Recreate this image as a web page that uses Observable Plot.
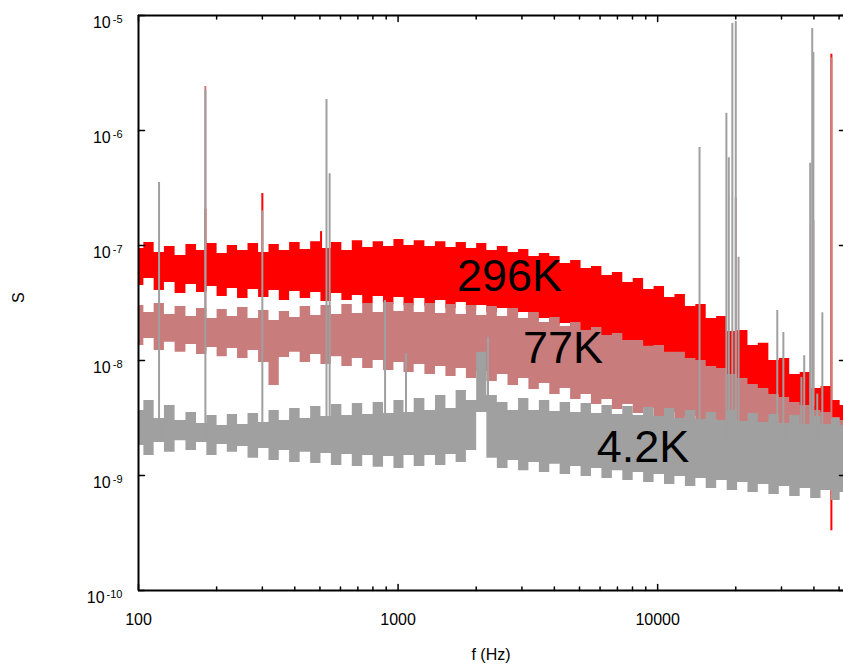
<!DOCTYPE html>
<html><head><meta charset="utf-8">
<script src="https://cdn.jsdelivr.net/npm/d3@7"></script>
<script src="https://cdn.jsdelivr.net/npm/@observablehq/plot@0.6"></script>
<style>body{margin:0;background:#fff;}</style>
</head><body><div id="chart"></div>
<script>
// sample frequencies (Hz)
const freq = [100,110,120,132,145,160,175,192,210,230,252,277,304,333,365,400,440,482,528,580,636,698,765,840,920,1010,1100,1210,1330,1460,1600,1750,1920,2100,2300,2530,2780,3050,3340,3670,4020,4410,4840,5310,5820,6390,7010,7690,8430,9250,10150,11130,12210,13400,14700,16100,17700,19400,21300,23300,25600,28100,30800,33800,37100,40700,44600,49000,52000];

// 296K noise band: upper and lower envelopes
const red296Hi = [9.42e-8,1.06e-7,8.70e-8,9.80e-8,8.18e-8,1.02e-7,9.05e-8,1.04e-7,8.52e-8,1.00e-7,9.05e-8,1.04e-7,8.70e-8,1.02e-7,9.05e-8,1.06e-7,9.23e-8,1.08e-7,9.42e-8,1.06e-7,9.05e-8,1.10e-7,9.61e-8,1.08e-7,9.80e-8,1.13e-7,1.00e-7,1.10e-7,9.80e-8,1.08e-7,9.61e-8,1.06e-7,9.42e-8,1.04e-7,9.05e-8,9.80e-8,8.70e-8,9.23e-8,8.02e-8,8.52e-8,8.02e-8,6.98e-8,7.41e-8,6.31e-8,6.57e-8,5.48e-8,5.83e-8,4.77e-8,5.16e-8,4.14e-8,4.40e-8,3.53e-8,3.75e-8,2.95e-8,3.07e-8,2.32e-8,2.41e-8,1.79e-8,1.82e-8,1.35e-8,1.41e-8,1.00e-8,1.04e-8,7.56e-9,7.86e-9,5.71e-9,5.94e-9,4.49e-9,4.06e-9];
const red296Lo = [4.49e-8,5.16e-8,4.06e-8,4.77e-8,3.82e-8,4.58e-8,3.90e-8,4.40e-8,3.60e-8,4.23e-8,3.46e-8,4.14e-8,3.53e-8,4.06e-8,3.32e-8,3.98e-8,3.46e-8,3.90e-8,3.26e-8,3.82e-8,3.32e-8,3.67e-8,3.13e-8,3.60e-8,3.07e-8,3.53e-8,3.01e-8,3.46e-8,2.95e-8,3.32e-8,2.83e-8,3.19e-8,2.72e-8,3.01e-8,2.62e-8,2.83e-8,2.41e-8,2.62e-8,2.23e-8,2.32e-8,2.01e-8,2.10e-8,1.82e-8,1.82e-8,1.62e-8,1.59e-8,1.44e-8,1.38e-8,1.27e-8,1.22e-8,1.10e-8,1.04e-8,9.42e-9,8.87e-9,7.86e-9,7.41e-9,6.57e-9,6.06e-9,5.48e-9,5.06e-9,4.49e-9,4.23e-9,3.82e-9,3.53e-9,3.13e-9,2.95e-9,2.72e-9,2.56e-9,2.46e-9];

// 77K noise band
const pink77Hi = [3.01e-8,2.62e-8,3.13e-8,2.51e-8,2.95e-8,2.41e-8,2.83e-8,2.32e-8,2.78e-8,2.41e-8,2.89e-8,2.32e-8,2.72e-8,2.23e-8,2.67e-8,2.37e-8,2.95e-8,2.46e-8,3.01e-8,2.51e-8,3.07e-8,2.56e-8,3.13e-8,2.62e-8,3.19e-8,2.67e-8,3.13e-8,2.62e-8,3.13e-8,2.56e-8,3.07e-8,2.51e-8,3.01e-8,2.46e-8,2.95e-8,2.41e-8,2.83e-8,2.32e-8,2.62e-8,2.14e-8,2.37e-8,1.98e-8,2.14e-8,1.82e-8,1.94e-8,1.65e-8,1.72e-8,1.49e-8,1.49e-8,1.33e-8,1.35e-8,1.18e-8,1.18e-8,1.04e-8,1.00e-8,8.87e-9,8.52e-9,7.56e-9,6.98e-9,6.19e-9,5.71e-9,5.06e-9,4.77e-9,4.31e-9,4.06e-9,3.67e-9,3.53e-9,3.19e-9,3.01e-9];
const pink77Lo = [1.35e-8,1.55e-8,1.22e-8,1.44e-8,1.18e-8,1.38e-8,1.13e-8,1.30e-8,1.08e-8,1.27e-8,1.04e-8,1.22e-8,9.61e-9,6.06e-9,1.06e-8,1.18e-8,9.61e-9,1.13e-8,9.23e-9,1.08e-8,8.87e-9,1.04e-8,8.52e-9,1.00e-8,8.18e-9,9.61e-9,7.86e-9,9.23e-9,7.56e-9,8.87e-9,7.26e-9,8.52e-9,6.98e-9,8.02e-9,6.57e-9,7.56e-9,6.06e-9,6.98e-9,5.60e-9,6.31e-9,5.06e-9,5.71e-9,4.58e-9,5.06e-9,4.14e-9,4.58e-9,3.75e-9,4.14e-9,3.46e-9,3.82e-9,3.26e-9,3.53e-9,3.01e-9,3.26e-9,2.83e-9,3.07e-9,2.72e-9,2.95e-9,2.62e-9,2.83e-9,2.51e-9,2.72e-9,2.46e-9,2.67e-9,2.37e-9,2.56e-9,2.32e-9,2.46e-9,2.27e-9];

// 4.2K noise band
const gray42Hi = [3.67e-9,4.49e-9,3.13e-9,4.06e-9,3.01e-9,3.53e-9,2.83e-9,3.32e-9,2.72e-9,3.39e-9,2.78e-9,3.46e-9,2.89e-9,3.67e-9,3.01e-9,3.82e-9,3.13e-9,3.98e-9,3.26e-9,4.14e-9,3.32e-9,4.23e-9,3.39e-9,4.31e-9,3.46e-9,4.49e-9,3.53e-9,4.67e-9,3.67e-9,4.96e-9,3.82e-9,5.48e-9,4.49e-9,1.18e-8,4.96e-9,4.31e-9,3.67e-9,4.67e-9,3.67e-9,4.49e-9,3.60e-9,4.31e-9,3.53e-9,4.23e-9,3.46e-9,4.06e-9,3.39e-9,3.98e-9,3.32e-9,3.90e-9,3.26e-9,3.82e-9,3.13e-9,3.67e-9,3.07e-9,3.53e-9,3.01e-9,3.67e-9,2.95e-9,3.46e-9,2.89e-9,3.39e-9,2.83e-9,3.32e-9,2.78e-9,3.26e-9,2.78e-9,3.13e-9,2.72e-9];
const gray42Lo = [1.82e-9,1.49e-9,1.94e-9,1.59e-9,2.01e-9,1.65e-9,1.94e-9,1.49e-9,1.86e-9,1.59e-9,1.79e-9,1.41e-9,1.72e-9,1.35e-9,1.65e-9,1.30e-9,1.59e-9,1.27e-9,1.55e-9,1.22e-9,1.52e-9,1.20e-9,1.49e-9,1.18e-9,1.46e-9,1.15e-9,1.49e-9,1.20e-9,1.49e-9,1.22e-9,1.52e-9,1.30e-9,1.65e-9,3.53e-9,1.41e-9,1.15e-9,1.35e-9,1.10e-9,1.30e-9,1.06e-9,1.25e-9,1.02e-9,1.20e-9,9.80e-10,1.15e-9,9.42e-10,1.10e-9,9.05e-10,1.06e-9,8.70e-10,1.02e-9,8.35e-10,9.80e-10,8.02e-10,9.42e-10,7.71e-10,9.05e-10,7.41e-10,8.70e-10,7.12e-10,8.35e-10,6.84e-10,8.02e-10,6.57e-10,7.71e-10,6.31e-10,7.41e-10,6.06e-10,7.12e-10];

// narrow spectral lines (frequency, foot, peak)
const redLineF  = [181, 300, 505, 46700];
const redLineLo = [4e-8, 4e-8, 4e-8, 3.3e-10];
const redLineHi = [2.06e-7, 2.83e-7, 1.32e-7, 4.6e-6];
const pinkLineF  = [181, 20000, 39800, 46700];
const pinkLineLo = [1.2e-8, 4e-9, 4e-9, 3e-9];
const pinkLineHi = [2.41e-6, 2.61e-7, 1.65e-7, 4.3e-6];
const grayLineF  = [120, 181, 300, 530, 545, 891, 1073, 2220, 14500, 18400, 18800, 19400, 20000, 20500, 28900, 30500, 35800, 36700, 38700, 39400, 39800, 41200, 43100];
const grayLineLo = [2e-9, 2e-9, 2.5e-9, 2e-9, 2e-9, 2.5e-9, 2.5e-9, 3e-9, 2e-9, 2e-9, 2e-9, 2e-9, 2e-9, 2e-9, 2e-9, 2e-9, 2e-9, 2e-9, 2e-9, 2e-9, 2e-9, 2e-9, 2e-9];
const grayLineHi = [3.53e-7, 2.2e-6, 2.0e-7, 1.86e-6, 4.2e-7, 3.32e-8, 1.15e-8, 1.59e-8, 7.1e-7, 1.41e-6, 5.8e-7, 8.5e-6, 8.86e-6, 7.9e-8, 2.72e-8, 1.75e-8, 7.1e-9, 1.1e-8, 5.2e-7, 7.7e-6, 4.77e-6, 5.1e-9, 2.6e-8];

// series labels
const labelText = ["296K", "77K", "4.2K"];
const labelF = [1686, 3026, 5828];
const labelS = [4.06e-8, 9.6e-9, 1.30e-9];

// axis ticks
const xMajor = [100, 1000, 10000];
const xMinor = [200,300,400,500,600,700,800,900,2000,3000,4000,5000,6000,7000,8000,9000,20000,30000,40000,50000];
const yMajor = [1e-10, 1e-9, 1e-8, 1e-7, 1e-6, 1e-5];

const C296 = "#ff0000", C77 = "#c87c7c", C42 = "#a0a0a0";

const band = (lo, hi) => freq.map((f, i) => ({f, lo: lo[i], hi: hi[i]}));
const lines = (F, lo, hi) => F.map((f, i) => ({f, lo: lo[i], hi: hi[i]}));
const tickShape = {draw(ctx, l) { ctx.moveTo(0, 0); ctx.lineTo(0, -l); }};
const labels = labelText.map((t, i) => ({t, f: labelF[i], s: labelS[i]}));

const chart = Plot.plot({
  width: 843, height: 669,
  marginLeft: 138, marginRight: 0, marginTop: 15, marginBottom: 79,
  style: {fontFamily: '"Liberation Sans", Arial, sans-serif', background: "#fff", color: "#000", overflow: "visible"},
  x: {type: "log", domain: [100, 52000]},
  y: {type: "log", domain: [1e-10, 1e-5]},
  marks: [
    Plot.areaY(band(red296Lo, red296Hi), {x: "f", y1: "lo", y2: "hi", fill: C296, curve: "step"}),
    Plot.ruleX(lines(redLineF, redLineLo, redLineHi), {x: "f", y1: "lo", y2: "hi", stroke: C296, strokeWidth: 2}),
    Plot.areaY(band(pink77Lo, pink77Hi), {x: "f", y1: "lo", y2: "hi", fill: C77, curve: "step"}),
    Plot.ruleX(lines(pinkLineF, pinkLineLo, pinkLineHi), {x: "f", y1: "lo", y2: "hi", stroke: C77, strokeWidth: 2}),
    Plot.areaY(band(gray42Lo, gray42Hi), {x: "f", y1: "lo", y2: "hi", fill: C42, curve: "step"}),
    Plot.ruleX(lines(grayLineF, grayLineLo, grayLineHi), {x: "f", y1: "lo", y2: "hi", stroke: C42, strokeWidth: 2}),

    Plot.text(labels, {x: "f", y: "s", text: "t", textAnchor: "start", lineAnchor: "bottom", fontSize: 45, fill: "#000"}),

    // frame (left, top, bottom)
    Plot.ruleX([100], {stroke: "#000", strokeWidth: 2}),
    Plot.ruleY([1e-10, 1e-5], {stroke: "#000", strokeWidth: 2}),

    // inward ticks
    Plot.vector(xMajor, {x: d => d, frameAnchor: "bottom", length: 6, rotate: 0, anchor: "start", shape: tickShape, stroke: "#000", strokeWidth: 1.5}),
    Plot.vector(xMinor, {x: d => d, frameAnchor: "bottom", length: 3.5, rotate: 0, anchor: "start", shape: tickShape, stroke: "#000", strokeWidth: 1.5}),
    Plot.vector(xMajor, {x: d => d, frameAnchor: "top", length: 6, rotate: 180, anchor: "start", shape: tickShape, stroke: "#000", strokeWidth: 1.5}),
    Plot.vector(xMinor, {x: d => d, frameAnchor: "top", length: 3.5, rotate: 180, anchor: "start", shape: tickShape, stroke: "#000", strokeWidth: 1.5}),
    Plot.vector(yMajor, {y: d => d, frameAnchor: "left", length: 6, rotate: 90, anchor: "start", shape: tickShape, stroke: "#000", strokeWidth: 1.5}),
    Plot.vector(yMajor, {y: d => d, frameAnchor: "right", length: 4, rotate: -90, anchor: "start", shape: tickShape, stroke: "#000", strokeWidth: 1.5}),

    // tick labels
    Plot.axisX({ticks: xMajor, anchor: "bottom", tickSize: 0, tickPadding: 23, tickFormat: d => String(d), fontSize: 16, label: null}),
    Plot.axisY({ticks: yMajor, anchor: "left", tickSize: 0, tickPadding: 16, tickFormat: d => "10^" + Math.round(Math.log10(d)), fontSize: 16, label: null}),

    // axis titles
    Plot.text(["f (Hz)"], {text: d => d, frameAnchor: "bottom", dy: 69, fontSize: 16}),
    Plot.text(["S"], {text: d => d, frameAnchor: "left", dx: -120, rotate: -90, fontSize: 16})
  ]
});

// render exponents as superscripts
d3.select(chart).selectAll('g[aria-label="y-axis tick label"] text').each(function() {
  const parts = this.textContent.split("^");
  if (parts.length !== 2) return;
  const t = d3.select(this);
  t.text("");
  t.append("tspan").attr("dy", "7.4").text(parts[0]);
  t.append("tspan").attr("dy", "-5.5").attr("dx", "2").attr("font-size", "11").text(parts[1]);
});

document.getElementById("chart").appendChild(chart);
</script>
</body></html>
